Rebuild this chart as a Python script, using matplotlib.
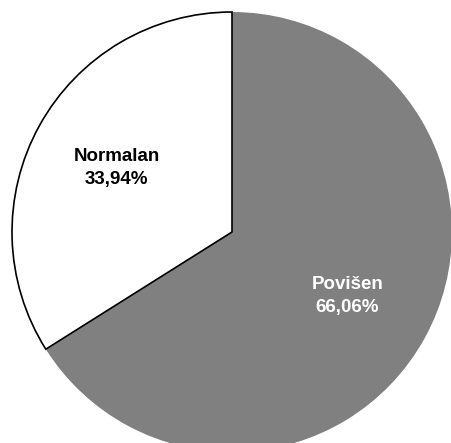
import matplotlib.pyplot as plt

# Data
categories = ["Povišen", "Normalan"]
shares = [66.06, 33.94]
fill_colors = ["#808080", "#ffffff"]
text_colors = ["#ffffff", "#000000"]

W, H = 452, 443
fig = plt.figure(figsize=(W / 100, H / 100), dpi=100)
ax = fig.add_axes([0, 0, 1, 1])

labels = [f"{c}\n{v:.2f}%".replace(".", ",") for c, v in zip(categories, shares)]
wedges, texts = ax.pie(shares, labels=labels, colors=fill_colors,
                       startangle=90, counterclock=False,
                       center=(232, H - 232), radius=220,
                       labeldistance=0.6, frame=True,
                       wedgeprops=dict(linewidth=0))
ax.set_aspect("equal")
ax.axis("off")
ax.set_xlim(0, W)
ax.set_ylim(0, H)

# Only the white slice carries an outline.
wedges[1].set_edgecolor("black")
wedges[1].set_linewidth(1.2)
wedges[1].set_zorder(3)

for t, tc in zip(texts, text_colors):
    t.set_color(tc)
    t.set_fontsize(13.5)
    t.set_fontweight("bold")
    t.set_family("Liberation Sans")
    t.set_ha("center")
    t.set_va("center")
    t.set_linespacing(1.45)
    t.set_zorder(4)

fig.savefig("out.png", dpi=100)
